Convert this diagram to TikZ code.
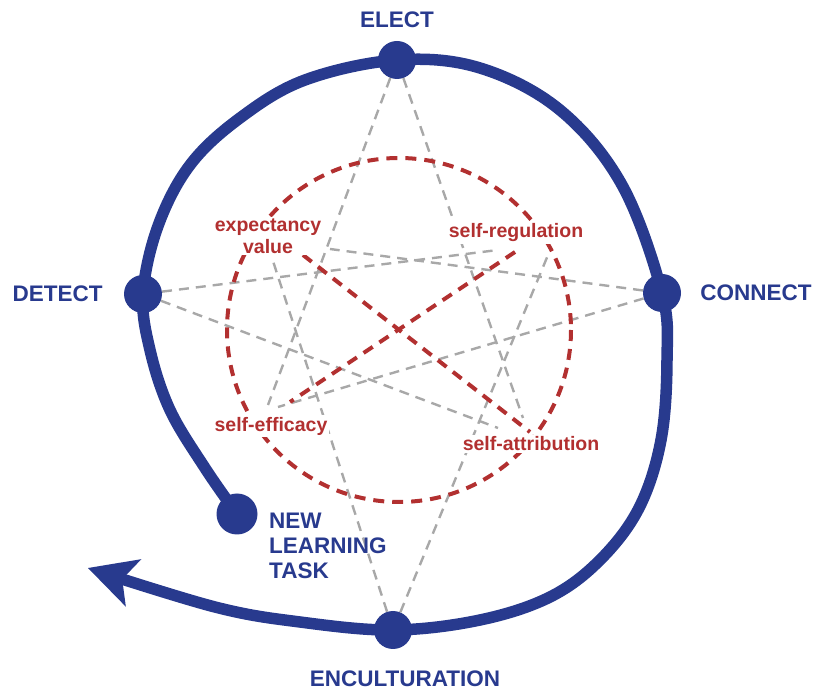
\documentclass[tikz,border=0pt]{standalone}
\usepackage{fontspec}
\setmainfont{Liberation Sans}
\usetikzlibrary{positioning,arrows.meta}
\definecolor{cycleblue}{RGB}{40,58,142}
\definecolor{motivred}{RGB}{178,48,48}
\definecolor{linkgray}{RGB}{168,168,168}

\begin{document}
\begin{tikzpicture}[x=1pt,y=-1pt,
    stage/.style={circle,fill=cycleblue,minimum size=38pt,inner sep=0pt},
    stagename/.style={text=cycleblue,font=\bfseries\fontsize{22.5}{25}\selectfont,inner sep=0pt},
    factor/.style={text=motivred,font=\bfseries\fontsize{19.5}{22}\selectfont,fill=white,inner sep=2pt,align=center},
    link/.style={linkgray,line width=2.4pt,dash pattern=on 10pt off 7pt},
    redlink/.style={motivred,line width=4pt,dash pattern=on 11pt off 8pt},
    spiral/.style={cycleblue,line width=11.5pt}]

    \useasboundingbox (0,0) rectangle (815,692);

    % stages on the spiral
    \node[stage] (elect) at (397,60) {};
    \node[stage] (connect) at (662,293) {};
    \node[stage] (encult) at (393,630) {};
    \node[stage] (detect) at (143,294) {};
    \node[stage,minimum size=41pt] (task) at (237,514) {};

    % free ends next to the factors
    \coordinate (hub) at (399,330);
    \coordinate (ev-c) at (330,249);
    \coordinate (ev-n) at (272,258);
    \coordinate (ev-x) at (303,255);
    \coordinate (sr-d) at (498,250);
    \coordinate (sr-n) at (548,255);
    \coordinate (sr-x) at (515,252);
    \coordinate (se-e) at (268,405);
    \coordinate (se-c) at (278,407);
    \coordinate (se-x) at (290,402);
    \coordinate (sa-e) at (523,418);
    \coordinate (sa-d) at (498,428);
    \coordinate (sa-x) at (530,432);

    \draw[link] (elect) -- (se-e);
    \draw[link] (elect) -- (sa-e);
    \draw[link] (detect) -- (sr-d);
    \draw[link] (detect) -- (sa-d);
    \draw[link] (connect) -- (ev-c);
    \draw[link] (connect) -- (se-c);
    \draw[link] (encult) -- (ev-n);
    \draw[link] (encult) -- (sr-n);

    \draw[redlink] (hub) circle[radius=172];
    \draw[redlink] (ev-x) -- (sa-x);
    \draw[redlink] (sr-x) -- (se-x);

    \node[factor] (ev) at (268,236) {expectancy\\value};
    \node[factor] (sr) at (516,233) {self-regulation};
    \node[factor] (se) at (271,426) {self-efficacy};
    \node[factor] (sa) at (531,444) {self-attribution};

    \draw[spiral,-{Stealth[length=48pt,width=50pt,inset=12pt,line width=0pt]}] plot[smooth,tension=0.6] coordinates {(task.center) (205,468) (170,410) (150,350) (detect.center) (158,226) (190,165) (240,118) (305,80) (elect.center) (480,68) (560,110) (622,185) (connect.center) (667,360) (661,440) (639,508) (600,560) (550,597) (480,620) (encult.center) (300,622) (215,607) (88,568)};

    \node[stagename,above=13pt of elect] (elect-txt) {ELECT};
    \node[stagename,right=19pt of connect] (connect-txt) {CONNECT};
    \node[stagename,left=21pt of detect] (detect-txt) {DETECT};
    \node[stagename,below=21pt of encult,xshift=12pt] (encult-txt) {ENCULTURATION};
    \node[stagename,align=left,anchor=north west] (task-txt) at (269,513) {NEW\\LEARNING\\TASK};
\end{tikzpicture}
\end{document}
